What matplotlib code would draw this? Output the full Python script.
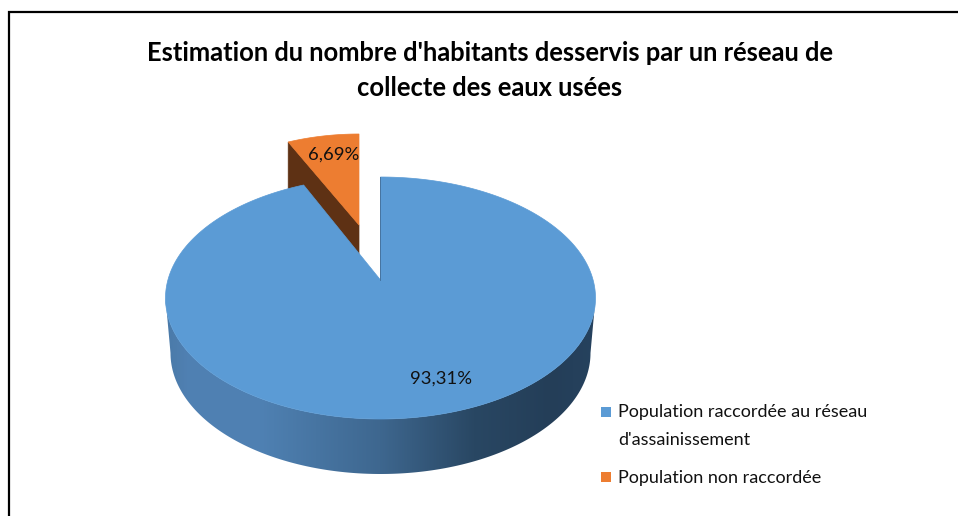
import numpy as np
import matplotlib
matplotlib.use("Agg")
import matplotlib.pyplot as plt
from matplotlib.colors import LinearSegmentedColormap
from matplotlib.patches import Polygon, Rectangle

# ---- data ----
title_lines = ["Estimation du nombre d'habitants desservis par un réseau de",
               "collecte des eaux usées"]
categories = ["Population raccordée au réseau\nd'assainissement", "Population non raccordée"]
values = [93.31, 6.69]
value_labels = ["93,31%", "6,69%"]
colors = ["#5B9BD5", "#ED7D31"]
cut_colour = "#5E3114"
wall_stops = [(0.0, "#4A7AA8"), (0.05, "#5080B2"), (0.22, "#4F81B3"), (0.5, "#3E678F"),
              (0.72, "#294763"), (0.9, "#243E58"), (1.0, "#26425E")]

plt.rcParams["font.family"] = ["Lato", "DejaVu Sans"]
fig = plt.figure(figsize=(9.58, 5.16), dpi=100)
ax = fig.add_axes([0, 0, 1, 1])
ax.set_xlim(0, 958)
ax.set_ylim(516, 0)
ax.axis("off")

# frame
ax.plot([9, 9, 958], [516, 12, 12], color="black", lw=1.6, solid_capstyle="butt", solid_joinstyle="miter")

# projection
CX, CY, A, B = 380.5, 298, 215, 121      # top ellipse
APEX_Y = 280
DEPTH, BOTTOM_A = 55, 210
PERSP = 0.87                              # foreshortening of angle near the back of the pie

def arc(t0, t1, cx=CX, cy=CY, a=A, b=B, n=300):
    t = np.radians(np.linspace(t0, t1, n))   # clockwise from 12 o'clock
    return np.column_stack([cx + a * np.sin(t), cy - b * np.cos(t)])

theta_small = 360 * values[1] / sum(values) * PERSP

# outer wall with a horizontal gradient
top_front = arc(90, 270)
bottom_front = arc(270, 90, cy=CY + DEPTH, a=BOTTOM_A)
wall = Polygon(np.vstack([top_front, bottom_front]), closed=True, fc="none", ec="none")
ax.add_patch(wall)
cmap = LinearSegmentedColormap.from_list("wall", wall_stops)
img = ax.imshow(np.linspace(0, 1, 512)[None, :], cmap=cmap, aspect="auto",
                extent=[CX - A, CX + A, CY + DEPTH + B, CY], zorder=1)
img.set_clip_path(wall)
ax.set_xlim(0, 958)
ax.set_ylim(516, 0)

# exploded small slice
OX, OY_APEX, OA, OB, OCY = 359, 225, 198, 121, 255
o_arc = arc(-theta_small, 0, cx=OX, cy=OCY, a=OA, b=OB, n=60)
o_depth = 50
left = o_arc[0]
ax.add_patch(Polygon([left, (OX, OY_APEX), (OX, OY_APEX + o_depth), (left[0], left[1] + o_depth)],
                     closed=True, fc=cut_colour, ec=cut_colour, lw=0.5, zorder=2))
ax.add_patch(Polygon(np.vstack([[(OX, OY_APEX)], o_arc]), closed=True,
                     fc=colors[1], ec=colors[1], lw=0.5, zorder=3))

# main slice
b_arc = arc(0, 360 - theta_small)
ax.add_patch(Polygon(np.vstack([[(CX, APEX_Y)], b_arc]), closed=True,
                     fc=colors[0], ec=colors[0], lw=0.5, zorder=4))
ax.plot([CX, CX], [CY - B, APEX_Y], color="#3F6C96", lw=0.6, zorder=4)

# value labels
ax.text(441.5, 379, value_labels[0], ha="center", va="center", fontsize=13.3, color="#111111", zorder=6)
ax.text(333.5, 155, value_labels[1], ha="center", va="center", fontsize=13.3, color="#111111", zorder=6)

# title
ax.text(490, 53, title_lines[0], ha="center", va="center", fontsize=18.4, fontweight="bold", color="black")
ax.text(490, 88.5, title_lines[1], ha="center", va="center", fontsize=18.4, fontweight="bold", color="black")

# legend
for y_mid, label, c in zip([412, 477], categories, colors):
    ax.add_patch(Rectangle((601, y_mid - 5.5), 10.5, 10.5, fc=c, ec="none"))
    ax.text(618, y_mid - 7.5, label, ha="left", va="top", fontsize=13, color="#111111", linespacing=1.88)

fig.savefig("out.png", dpi=100)
